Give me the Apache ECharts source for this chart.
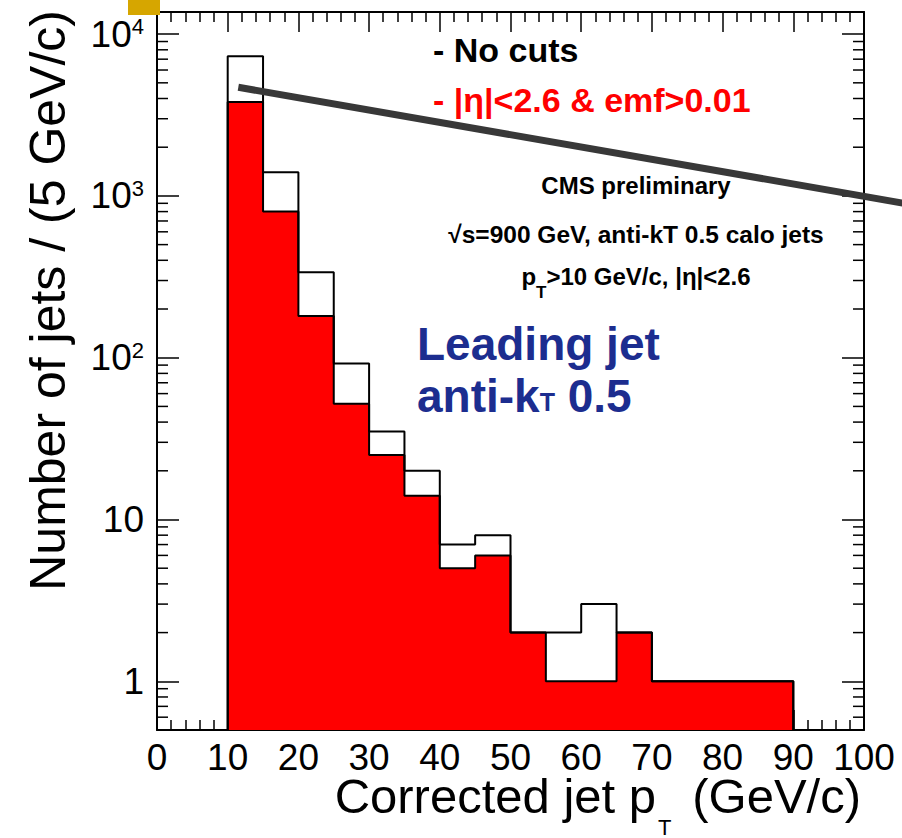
<!DOCTYPE html>
<html>
<head>
<meta charset="utf-8">
<title>Leading jet pT</title>
<script src="https://cdn.jsdelivr.net/npm/echarts@6/dist/echarts.min.js"></script>
<style>
  html, body { margin: 0; padding: 0; background: #fff; }
  #main { width: 902px; height: 838px; }
</style>
</head>
<body>
<div id="main"></div>
<script>
  // 5 GeV/c bins
  var binEdges = [10, 15, 20, 25, 30, 35, 40, 45, 50, 55, 60, 65, 70, 75, 80, 85, 90]
  // - No cuts
  var noCuts = [7300, 1400, 338, 92, 35, 20, 7, 8, 2, 2, 3, 2, 1, 1, 1, 1]
  // - |eta|<2.6 & emf>0.01
  var withCuts = [3800, 800, 181, 52, 25, 14, 5, 6, 2, 1, 1, 2, 1, 1, 1, 1]
  // log axis minor ticks
  var yMinorTicks = [0.6, 0.7, 0.8, 0.9, 2, 3, 4, 5, 6, 7, 8, 9,
    20, 30, 40, 50, 60, 70, 80, 90, 200, 300, 400, 500, 600, 700, 800, 900,
    2000, 3000, 4000, 5000, 6000, 7000, 8000, 9000]
  // the dark stroke across the plot (start, end)
  var strokeX = [11.5, 106]
  var strokeY = [4690, 895]

  var xMin = 0, xMax = 100, yMin = 0.5, yMax = 13700
  var FONT = '"Liberation Sans", Arial, Helvetica, sans-serif'

  function stepPoints(values) {
    var last = binEdges.length - 1
    var pts = [[binEdges[0], yMin]]
    for (var i = 0; i < values.length; i++) {
      pts.push([binEdges[i], values[i]])
    }
    pts.push([binEdges[last], values[values.length - 1]])
    pts.push([binEdges[last], yMin])
    return pts
  }

  function yLabel(v) {
    var lg = Math.log10(v)
    var k = Math.round(lg)
    if (Math.abs(lg - k) > 1e-6) return ''
    if (k === 0) return '1'
    if (k === 1) return '10'
    return '10{sup|' + k + '}'
  }

  var tickLine = {color: '#000', width: 1.5}
  var frameLine = {color: '#000', width: 2}

  function xAxisOf(pos, showLabel) {
    return {
      type: 'value', position: pos, min: xMin, max: xMax, interval: 10,
      axisLine: {show: true, onZero: false, lineStyle: frameLine},
      axisTick: {show: true, inside: true, length: 20, lineStyle: tickLine},
      minorTick: {show: true, splitNumber: 5, length: 10, lineStyle: tickLine},
      axisLabel: {show: showLabel, fontSize: 37, lineHeight: 30, color: '#000', fontFamily: FONT, margin: 12},
      splitLine: {show: false},
      minorSplitLine: {show: false}
    }
  }

  function yAxisOf(pos, showLabel) {
    return {
      type: 'log', logBase: 10, position: pos, min: yMin, max: yMax,
      axisLine: {show: true, onZero: false, lineStyle: frameLine},
      axisTick: {show: true, inside: true, length: 22, lineStyle: tickLine},
      axisLabel: {
        show: showLabel, fontSize: 37, color: '#000', fontFamily: FONT, margin: 13,
        showMinLabel: false, showMaxLabel: false,
        formatter: yLabel,
        rich: {sup: {fontSize: 22, color: '#000', fontFamily: FONT, verticalAlign: 'top'}}
      },
      splitLine: {show: false}
    }
  }

  function label(text, x, y, size, opts) {
    opts = opts || {}
    var align = opts.align || 'left'
    var vAlign = opts.vAlign || 'middle'
    var style = {
      text: text, fontSize: size, fontFamily: FONT,
      fontWeight: opts.bold ? 'bold' : 'normal',
      fill: opts.color || '#000',
      align: align, textAlign: align,
      verticalAlign: vAlign, textVerticalAlign: vAlign
    }
    if (opts.lineHeight) style.lineHeight = opts.lineHeight
    if (opts.rich) style.rich = opts.rich
    var el = {type: 'text', x: x, y: y, z: 50, style: style}
    if (opts.rotation) el.rotation = opts.rotation
    return el
  }

  var chart = echarts.init(document.getElementById('main'), null, {renderer: 'svg'})
  var option = {
    animation: false,
    backgroundColor: '#fff',
    grid: {left: 157, right: 38, top: 12, bottom: 108, containLabel: false, outerBoundsMode: 'none'},
    xAxis: [xAxisOf('bottom', true), xAxisOf('top', false)],
    yAxis: [yAxisOf('left', true), yAxisOf('right', false)],
    series: [
      {
        name: '|η|<2.6 & emf>0.01',
        type: 'line', step: 'end', symbol: 'none',
        data: stepPoints(withCuts),
        lineStyle: {color: '#000', width: 2},
        areaStyle: {color: '#ff0000', opacity: 1, origin: 'start'},
        z: 2
      },
      {
        name: 'No cuts',
        type: 'line', step: 'end', symbol: 'none',
        data: stepPoints(noCuts),
        lineStyle: {color: '#000', width: 2},
        z: 3
      },
      {
        type: 'custom',
        silent: true,
        data: yMinorTicks.map(function (v) { return [xMin, v] }),
        renderItem: function (params, api) {
          var v = api.value(1)
          var l = api.coord([xMin, v])
          var r = api.coord([xMax, v])
          return {
            type: 'group',
            children: [
              {type: 'line', shape: {x1: l[0], y1: l[1], x2: l[0] + 11, y2: l[1]}, style: {stroke: '#000', lineWidth: 1.5}},
              {type: 'line', shape: {x1: r[0] - 11, y1: r[1], x2: r[0], y2: r[1]}, style: {stroke: '#000', lineWidth: 1.5}}
            ]
          }
        },
        z: 4
      },
      {
        type: 'custom',
        silent: true,
        data: [[strokeX[0], strokeY[0], strokeX[1], strokeY[1]]],
        renderItem: function (params, api) {
          var a = api.coord([api.value(0), api.value(1)])
          var b = api.coord([api.value(2), api.value(3)])
          return {
            type: 'line',
            shape: {x1: a[0], y1: a[1], x2: b[0], y2: b[1]},
            style: {stroke: '#383838', lineWidth: 7}
          }
        },
        z: 10
      }
    ],
    graphic: [
      {type: 'rect', shape: {x: 128, y: 0, width: 32, height: 15}, style: {fill: '#d6a600'}, z: 100},
      label('- No cuts', 433, 49.5, 34, {bold: true}),
      label('- |η|<2.6 & emf>0.01', 433, 99.5, 34, {bold: true, color: '#ff0000'}),
      label('CMS preliminary', 636, 185.6, 24, {bold: true, align: 'center'}),
      label('√s=900 GeV, anti-kT 0.5 calo jets', 636, 234.2, 24.5, {bold: true, align: 'center'}),
      label('p{sub|T}>10 GeV/c, |η|<2.6', 636, 276, 24, {
        bold: true, align: 'center',
        rich: {sub: {fontSize: 17, fontWeight: 'bold', fontFamily: FONT, fill: '#000', padding: [32, 0, 0, 0]}}
      }),
      label('Leading jet', 417, 343.7, 46, {bold: true, color: '#1c2d8f'}),
      label('anti-k{sub|T} 0.5', 417, 395.7, 46, {
        bold: true, color: '#1c2d8f',
        rich: {sub: {fontSize: 25, fontWeight: 'bold', fontFamily: FONT, fill: '#1c2d8f', padding: [12, 0, 0, 0]}}
      }),
      // x axis title: "Corrected jet p", subscript "T", "(GeV/c)"
      label('Corrected jet p', 656, 795.8, 49, {align: 'right', lineHeight: 40}),
      label('T', 658, 838, 22, {vAlign: 'bottom'}),
      label('(GeV/c)', 861, 795.8, 49, {align: 'right', lineHeight: 40}),
      label('Number of jets / (5 GeV/c)', 47.5, 10, 50, {align: 'right', rotation: Math.PI / 2})
    ]
  }
  chart.setOption(option)
</script>
</body>
</html>
